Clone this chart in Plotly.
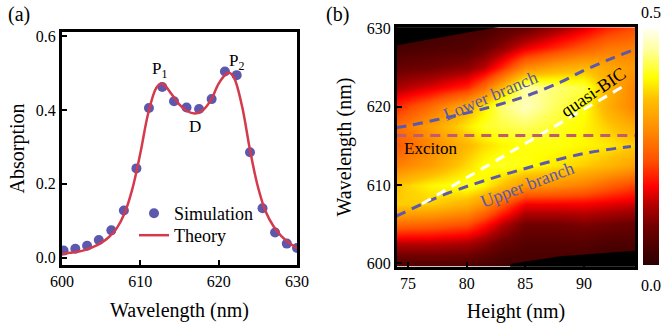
import plotly.graph_objects as go

# ---------------- Panel (a) data ----------------
sim_wl = [600.2, 601.7, 603.2, 604.7, 606.3, 607.9, 609.5, 611.1, 612.8, 614.3,
          615.9, 617.5, 619.1, 620.8, 622.3, 624.0, 625.6, 627.2, 628.7, 630.0]
sim_abs = [0.019, 0.024, 0.032, 0.048, 0.074, 0.128, 0.242, 0.406, 0.463, 0.424,
           0.407, 0.403, 0.430, 0.505, 0.495, 0.286, 0.134, 0.068, 0.038, 0.026]

th_wl = [600, 601, 602, 603, 604, 605, 606, 607, 608, 609, 610, 611, 612, 612.6,
         613, 614, 615, 616, 617, 618, 619, 620, 621, 621.4, 622, 623, 624, 625,
         626, 627, 628, 629, 630]
th_abs = [0.010, 0.013, 0.016, 0.021, 0.029, 0.040, 0.056, 0.080, 0.121, 0.188,
          0.283, 0.391, 0.459, 0.472, 0.470, 0.443, 0.415, 0.397, 0.391, 0.400,
          0.427, 0.472, 0.499, 0.501, 0.486, 0.409, 0.292, 0.193, 0.125, 0.085,
          0.058, 0.040, 0.026]

# ---------------- Panel (b) data ----------------
height_nm = [74.0, 77.0, 80.0, 81.5, 83.0, 85.0, 87.5, 90.0, 92.0, 94.4]
wl_nm = [600, 602.5, 605, 607.5, 610, 612.5, 615, 617.5, 620, 622.5, 625, 627.5, 630]
# absorption map, rows = wavelength, columns = height
absorb = [
    [0.05, 0.05, 0.05, 0.04, 0.03, 0.03, 0.03, 0.03, 0.02, 0.02],
    [0.13, 0.13, 0.12, 0.10, 0.07, 0.05, 0.05, 0.05, 0.04, 0.04],
    [0.25, 0.24, 0.22, 0.18, 0.13, 0.08, 0.08, 0.09, 0.08, 0.07],
    [0.36, 0.36, 0.33, 0.29, 0.23, 0.16, 0.16, 0.16, 0.15, 0.14],
    [0.35, 0.39, 0.41, 0.39, 0.35, 0.30, 0.29, 0.27, 0.24, 0.21],
    [0.27, 0.31, 0.37, 0.40, 0.41, 0.40, 0.38, 0.36, 0.34, 0.31],
    [0.23, 0.28, 0.34, 0.37, 0.39, 0.40, 0.40, 0.39, 0.38, 0.36],
    [0.25, 0.31, 0.38, 0.41, 0.42, 0.43, 0.41, 0.39, 0.36, 0.32],
    [0.19, 0.25, 0.33, 0.38, 0.44, 0.47, 0.43, 0.40, 0.33, 0.27],
    [0.12, 0.15, 0.19, 0.25, 0.34, 0.46, 0.44, 0.42, 0.34, 0.27],
    [0.07, 0.08, 0.10, 0.13, 0.19, 0.28, 0.32, 0.34, 0.32, 0.30],
    [0.03, 0.04, 0.05, 0.07, 0.10, 0.15, 0.19, 0.23, 0.26, 0.27],
    [0.02, 0.02, 0.03, 0.03, 0.05, 0.07, 0.11, 0.15, 0.19, 0.22],
]

lower_h = [74.0, 75.2, 78.0, 81.7, 85.0, 88.0, 90.0, 92.0, 94.0]
lower_wl = [617.3, 617.6, 618.5, 619.8, 621.3, 623.1, 624.6, 625.9, 627.1]
upper_h = [74.0, 77.0, 80.0, 85.0, 90.0, 94.0]
upper_wl = [606.0, 608.1, 609.8, 612.1, 614.0, 614.9]
qbic_h = [76.2, 93.5]
qbic_wl = [607.6, 622.7]
exciton_h = [74.0, 94.4]
exciton_wl = [616.3, 616.3]

# regions outside the simulated domain
mask_top_h = [74.0, 80.3, 83.0, 83.0, 74.0]
mask_top_wl = [627.8, 629.5, 630.2, 631.0, 631.0]
mask_bot_h = [83.7, 88.0, 94.4, 94.4, 83.7]
mask_bot_wl = [599.9, 600.9, 601.6, 599.0, 599.0]

FONT = "Liberation Serif, Times New Roman, DejaVu Serif, serif"
BLUE = "#5b58ad"
RED = "#d43a4c"

fig = go.Figure()

fig.add_trace(go.Scatter(x=sim_wl, y=sim_abs, mode="markers", name="Simulation",
                         marker=dict(color=BLUE, size=10), xaxis="x", yaxis="y",
                         legend="legend"))
fig.add_trace(go.Scatter(x=th_wl, y=th_abs, mode="lines", name="Theory",
                         line=dict(color=RED, width=2.5, shape="spline"),
                         xaxis="x", yaxis="y", legend="legend2"))

colorscale = [
    [0.0, "#2d0000"], [0.05, "#400000"], [0.16, "#700000"], [0.25, "#b00000"],
    [0.33, "#ff0000"], [0.44, "#ff5000"], [0.57, "#ff8c00"], [0.70, "#ffc000"],
    [0.79, "#ffff00"], [0.91, "#ffffa0"], [1.0, "#fffff4"],
]
fig.add_trace(go.Heatmap(x=height_nm, y=wl_nm, z=absorb, zsmooth="best",
                         colorscale=colorscale, zmin=0, zmax=0.5,
                         xaxis="x2", yaxis="y2", showlegend=False,
                         colorbar=dict(x=643/661, xanchor="left", thickness=16, xpad=0, ypad=0,
                                       lenmode="pixels", len=237, y=(327-146.5)/327, yanchor="middle",
                                       showticklabels=False, ticks="", outlinewidth=0)))

for mx, my in ((mask_top_h, mask_top_wl), (mask_bot_h, mask_bot_wl)):
    fig.add_trace(go.Scatter(x=mx, y=my, fill="toself", fillcolor="black", mode="none",
                             xaxis="x2", yaxis="y2", showlegend=False, hoverinfo="skip"))

dash = "10px,7px"
fig.add_trace(go.Scatter(x=lower_h, y=lower_wl, mode="lines", line=dict(color=BLUE, width=3, dash=dash, shape="spline"),
                         xaxis="x2", yaxis="y2", showlegend=False))
fig.add_trace(go.Scatter(x=upper_h, y=upper_wl, mode="lines", line=dict(color=BLUE, width=3, dash=dash, shape="spline"),
                         xaxis="x2", yaxis="y2", showlegend=False))
fig.add_trace(go.Scatter(x=qbic_h, y=qbic_wl, mode="lines", line=dict(color="white", width=3, dash=dash),
                         xaxis="x2", yaxis="y2", showlegend=False))
fig.add_trace(go.Scatter(x=exciton_h, y=exciton_wl, mode="lines", line=dict(color="#c25a70", width=3, dash=dash),
                         xaxis="x2", yaxis="y2", showlegend=False))

axis_common = dict(showline=True, linewidth=3, linecolor="black", mirror=True,
                   ticks="inside", ticklen=5, tickwidth=2, tickcolor="black",
                   showgrid=False, zeroline=False, automargin=False,
                   tickfont=dict(family=FONT, size=16, color="black"))

legend_common = dict(xanchor="left", yanchor="top", bgcolor="rgba(0,0,0,0)",
                     font=dict(family=FONT, size=18), itemwidth=30)

fig.update_layout(
    width=661, height=327, margin=dict(l=0, r=0, t=0, b=0, autoexpand=False),
    paper_bgcolor="white", plot_bgcolor="white",
    font=dict(family=FONT, color="black"),
    xaxis=dict(domain=[62/661, 297/661], range=[600, 630], tickvals=[600, 610, 620, 630],
               title=dict(text="Wavelength (nm)", font=dict(size=20), standoff=14), anchor="y",
               **axis_common),
    yaxis=dict(domain=[(327-265)/327, (327-32)/327], range=[-0.02, 0.612],
               tickvals=[0.0, 0.2, 0.4, 0.6], ticktext=["0.0", "0.2", "0.4", "0.6"],
               title=dict(text="Absorption", font=dict(size=20), standoff=6), anchor="x",
               **axis_common),
    xaxis2=dict(domain=[397/661, 635/661], range=[74.06, 94.35], tickvals=[75, 80, 85, 90],
                title=dict(text="Height (nm)", font=dict(size=20), standoff=14), anchor="y2",
                **axis_common),
    yaxis2=dict(domain=[(327-266.7)/327, (327-27.3)/327], range=[599.57, 630.1],
                tickvals=[600, 610, 620, 630],
                title=dict(text="Wavelength (nm)", font=dict(size=20), standoff=10), anchor="x2",
                **axis_common),
    legend=dict(x=134/661, y=(327-195)/327, **legend_common),
    legend2=dict(x=134/661, y=(327-217)/327, **legend_common),
    showlegend=True,
)

def note(text, x, y, xref="paper", yref="paper", size=17, color="black", angle=0):
    return dict(text=text, x=x, y=y, xref=xref, yref=yref, showarrow=False,
                xanchor="center", yanchor="middle", textangle=angle,
                font=dict(size=size, color=color))

ann = [
    note("(a)", 19/661, 1-15/327, size=20),
    note("(b)", 337/661, 1-15/327, size=20),
    note("P<sub>1</sub>", 612.5, 0.508, "x", "y"),
    note("P<sub>2</sub>", 622.3, 0.531, "x", "y"),
    note("D", 617.0, 0.355, "x", "y"),
    note("Lower branch", 82.0, 621.4, "x2", "y2", 18, BLUE, -23),
    note("Upper branch", 85.1, 610.0, "x2", "y2", 18, BLUE, -21),
    note("quasi-BIC", 90.8, 621.9, "x2", "y2", 18, "black", -34),
    note("Exciton", 76.9, 614.6, "x2", "y2", 17),
    note("0.5", 651/661, 1-12/327, size=16),
    note("0.0", 651/661, 1-285/327, size=16),
]
fig.update_layout(annotations=ann)

fig.write_html("out.html")
